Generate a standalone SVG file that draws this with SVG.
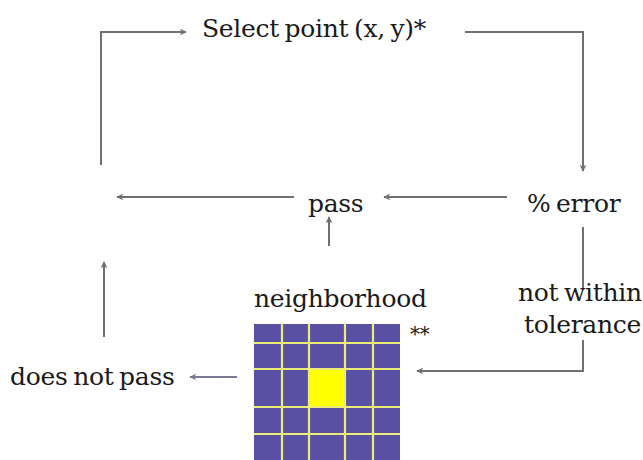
<svg xmlns="http://www.w3.org/2000/svg" width="643" height="460" viewBox="0 0 643 460">
  <style>
    .lbl { font-family: "DejaVu Serif", "Liberation Serif", serif; font-size: 25px; fill: #1a1a1a; letter-spacing: -0.3px; word-spacing: -2px; }
    .wire { fill: none; stroke: #707070; stroke-width: 2; }
    .wire-blue { fill: none; stroke: #7a7a9c; stroke-width: 2; }
    .cell { fill: #5a51a5; }
    .grid { stroke: #ecec78; stroke-width: 2.2; }
  </style>
  <defs>
    <marker id="arrow" viewBox="0 0 10 10" refX="9" refY="5" markerWidth="7" markerHeight="7" orient="auto" markerUnits="userSpaceOnUse">
      <path d="M0,0 L10,5 L0,10 L3,5 Z" fill="#707070"/>
    </marker>
    <marker id="arrow-blue" viewBox="0 0 10 10" refX="9" refY="5" markerWidth="7" markerHeight="7" orient="auto" markerUnits="userSpaceOnUse">
      <path d="M0,0 L10,5 L0,10 L3,5 Z" fill="#7a7a9c"/>
    </marker>
  </defs>
  <rect width="643" height="460" fill="#ffffff"/>

  <!-- connectors -->
  <g id="connectors">
    <path class="wire" d="M101,165 V32 H186" marker-end="url(#arrow)"/>
    <path class="wire" d="M465,32 H583 V171" marker-end="url(#arrow)"/>
    <path class="wire" d="M507,197 H384" marker-end="url(#arrow)"/>
    <path class="wire" d="M294,197 H117" marker-end="url(#arrow)"/>
    <path class="wire" d="M329,246 V217" marker-end="url(#arrow)"/>
    <path class="wire" d="M583,227 V290"/>
    <path class="wire" d="M583,340 V371 H417" marker-end="url(#arrow)"/>
    <path class="wire-blue" d="M237,377 H190" marker-end="url(#arrow-blue)"/>
    <path class="wire" d="M104,337 V262" marker-end="url(#arrow)"/>
  </g>

  <g id="select-point">
    <text class="lbl" x="202" y="37">Select point (x, y)*</text>
  </g>
  <g id="error">
    <text class="lbl" x="527" y="212">% error</text>
  </g>
  <g id="pass">
    <text class="lbl" x="308" y="212">pass</text>
  </g>
  <g id="not-within-tolerance">
    <text class="lbl" x="518" y="301">not within</text>
    <text class="lbl" x="524" y="333">tolerance</text>
  </g>
  <g id="does-not-pass">
    <text class="lbl" x="10" y="385">does not pass</text>
  </g>

  <!-- 5x5 neighborhood window around the selected point -->
  <g id="neighborhood">
    <text class="lbl" x="254" y="307">neighborhood</text>
    <rect class="cell" x="254" y="324" width="146" height="136"/>
    <rect x="309" y="369" width="36" height="38" fill="#ffff00"/>
    <g class="grid">
      <line x1="282" y1="324" x2="282" y2="460"/>
      <line x1="309" y1="324" x2="309" y2="460"/>
      <line x1="345" y1="324" x2="345" y2="460"/>
      <line x1="373" y1="324" x2="373" y2="460"/>
      <line x1="254" y1="343" x2="400" y2="343"/>
      <line x1="254" y1="369" x2="400" y2="369"/>
      <line x1="254" y1="407" x2="400" y2="407"/>
      <line x1="254" y1="434" x2="400" y2="434"/>
    </g>
    <text class="lbl" x="410" y="341" style="font-size:20px">**</text>
  </g>
</svg>
